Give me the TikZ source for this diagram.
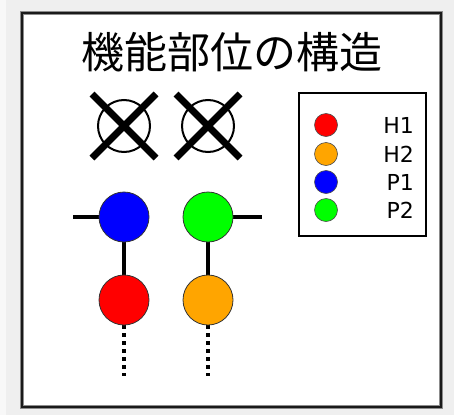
\documentclass[tikz,border=0pt]{standalone}
\usepackage{fontspec}
\setmainfont{DejaVu Sans}
\newfontfamily\cjk{Noto Sans CJK JP}
\definecolor{bgray}{HTML}{EFEFEF}
\definecolor{bstrip}{HTML}{F8F8F8}
\definecolor{frame}{HTML}{1A1A1A}
\definecolor{cred}{HTML}{FF0000}
\definecolor{corange}{HTML}{FFA500}
\definecolor{cblue}{HTML}{0000FF}
\definecolor{cgreen}{HTML}{00FF00}
\begin{document}
\begin{tikzpicture}[x=1pt,y=-1pt,
  ball/.style={circle, draw=black!80, line width=0.8pt, minimum size=50pt, inner sep=0pt},
  lball/.style={circle, draw=black!70, line width=0.6pt, minimum size=23pt, inner sep=0pt},
  ring/.style={circle, draw=black, line width=2pt, minimum size=52pt, inner sep=0pt},
  xline/.style={line width=7pt, black},
  conn/.style={line width=4pt, black},
  dotline/.style={line width=4pt, black, dash pattern=on 4pt off 4pt},
  lab/.style={anchor=east, inner sep=0pt, font=\fontsize{22}{26}\selectfont}
]
\useasboundingbox (0,0) rectangle (454,415);
\fill[bgray] (0,0) rectangle (454,415);
\fill[bstrip] (0,0) rectangle (6,415);
% frame
\draw[fill=white, draw=black!45, line width=4.5pt] (22,13) rectangle (441,407);
\draw[draw=frame, line width=2.6pt] (22,13) rectangle (441,407);
% title
\node[font=\cjk\fontsize{43}{50}\selectfont, inner sep=0pt] (title) at (232,52) {機能部位の構造};
% crossed rings
\node[ring] (x1) at (124,126) {};
\node[ring] (x2) at (208,126) {};
\draw[xline] ([shift={(-32,-32)}]x1.center) -- ([shift={(32,32)}]x1.center);
\draw[xline] ([shift={(32,-32)}]x1.center) -- ([shift={(-32,32)}]x1.center);
\draw[xline] ([shift={(-32,-32)}]x2.center) -- ([shift={(32,32)}]x2.center);
\draw[xline] ([shift={(32,-32)}]x2.center) -- ([shift={(-32,32)}]x2.center);
% chains
\coordinate (l1) at (73,217);
\coordinate (r2) at (262,217);
\coordinate (d1) at (124,376);
\coordinate (d2) at (208,376);
\draw[conn] (l1) -- (124,217);
\draw[conn] (208,217) -- (r2);
\draw[conn] (124,217) -- (124,300);
\draw[conn] (208,217) -- (208,300);
\draw[dotline] (124,325) -- (d1);
\draw[dotline] (208,325) -- (d2);
\node[ball, fill=cblue] (p1) at (124,217) {};
\node[ball, fill=cgreen] (p2) at (208,217) {};
\node[ball, fill=cred] (h1) at (124,300) {};
\node[ball, fill=corange] (h2) at (208,300) {};
% legend
\node[draw=black, line width=2pt, minimum width=127pt, minimum height=143pt, inner sep=0pt] (legend) at (362.5,164.5) {};
\node[lball, fill=cred] (lh1) at (326,125) {};
\node[lball, fill=corange] (lh2) at (326,154) {};
\node[lball, fill=cblue] (lp1) at (326,182) {};
\node[lball, fill=cgreen] (lp2) at (326,210) {};
\node[lab] (th1) at (414,125) {H1};
\node[lab] (th2) at (414,154) {H2};
\node[lab] (tp1) at (414,182) {P1};
\node[lab] (tp2) at (414,210) {P2};
\end{tikzpicture}
\end{document}
